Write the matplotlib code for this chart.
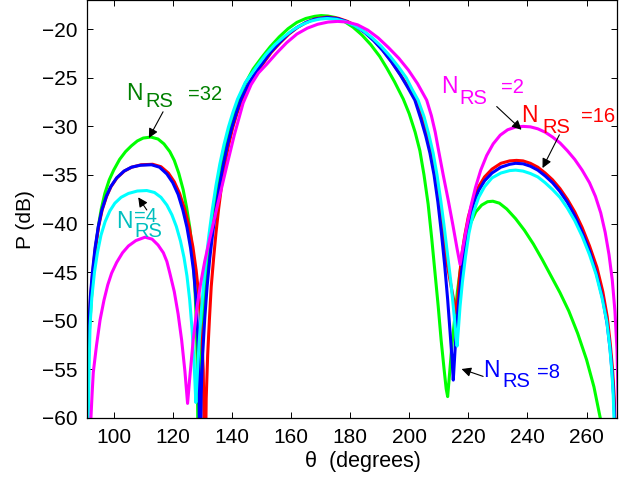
import numpy as np
import matplotlib
matplotlib.use("Agg")
import matplotlib.pyplot as plt

plt.rcParams['font.family'] = ['Liberation Sans', 'DejaVu Sans']

# curves: theta (degrees) and P (dB)
green_theta = [90.9, 91.3, 91.7, 92.0, 92.5, 93.1, 93.9, 94.8, 95.8, 97.0, 98.5, 100.0,
               102.0, 104.0, 106.0, 108.0, 110.0, 112.6, 115.0, 117.0, 119.0, 120.5, 122.0,
               123.5, 124.7, 125.8, 126.7, 127.4, 128.0, 128.3, 128.6, 128.9, 129.4, 130.1,
               130.9, 131.8, 132.8, 133.9, 135.1, 136.4, 137.8, 139.3, 140.8, 142.4, 144.5,
               147.2, 150.0, 153.0, 156.0, 159.0, 162.0, 165.0, 168.0, 170.2, 172.5, 175.0,
               178.0, 181.0, 184.0, 187.0, 190.0, 192.4, 195.0, 198.0, 200.0, 202.0, 203.6,
               205.0, 206.4, 207.6, 208.7, 209.8, 210.8, 211.8, 212.5, 213.0, 213.5, 214.3,
               215.3, 216.3, 217.5, 219.0, 220.7, 222.5, 224.5, 226.5, 228.3, 230.5, 233.0,
               236.0, 239.0, 242.0, 245.0, 248.0, 251.0, 254.0, 257.0, 260.0, 262.5, 264.3,
               266.0]
green_p = [-57.5, -54.0, -51.5, -50.0, -47.6, -45.1, -42.5, -40.3, -38.5, -36.9, -35.5, -34.5,
           -33.4, -32.6, -32.0, -31.5, -31.2, -31.1, -31.3, -31.8, -32.6, -33.5, -34.8,
           -36.5, -38.4, -40.5, -43.0, -46.0, -50.5, -55.0, -66.0, -58.0, -54.0, -50.0,
           -46.6, -43.6, -40.9, -38.4, -36.0, -33.8, -31.8, -30.0, -28.5, -27.1, -25.6,
           -24.1, -22.95, -21.8, -20.8, -19.95, -19.3, -18.9, -18.68, -18.6, -18.65, -18.8,
           -19.2, -19.8, -20.6, -21.6, -22.8, -24.0, -25.4, -27.2, -28.7, -30.6, -32.5,
           -35.0, -38.0, -41.5, -45.0, -48.5, -52.0, -55.0, -57.0, -57.8, -56.0, -53.0,
           -50.0, -47.0, -44.3, -41.8, -40.0, -38.8, -38.1, -37.75, -37.7, -37.9, -38.5,
           -39.5, -40.7, -42.1, -43.7, -45.4, -47.1, -49.0, -51.3, -54.0, -56.8, -59.5,
           -62.0]

red_theta = [91.1, 91.4, 91.7, 92.2, 92.9, 93.8, 94.9, 96.1, 97.6, 99.1, 101.1, 103.6,
             106.1, 109.3, 113.2, 116.0, 118.5, 120.5, 122.3, 124.0, 125.5, 126.8, 127.9,
             128.9, 129.7, 130.3, 130.9, 131.3, 131.8, 132.4, 133.0, 133.8, 134.6, 135.5,
             136.5, 137.6, 138.9, 140.3, 141.8, 143.4, 145.6, 147.8, 149.8, 153.3, 156.3,
             159.3, 162.3, 165.3, 168.3, 172.3, 176.0, 179.0, 182.0, 185.0, 188.0, 191.0,
             194.0, 197.0, 199.8, 202.3, 204.4, 206.0, 207.4, 208.8, 210.1, 211.4, 212.6,
             213.9, 215.0, 216.0, 216.5, 217.0, 217.8, 218.8, 220.0, 221.7, 223.5, 225.5,
             228.0, 231.0, 234.0, 236.3, 238.5, 241.0, 243.5, 246.0, 248.5, 251.0, 253.5,
             256.0, 258.5, 261.0, 263.5, 265.5, 267.0, 268.0, 268.8, 269.3, 269.7]
red_p = [-59.5, -54.5, -50.5, -47.5, -45.0, -42.5, -40.3, -38.6, -37.2, -36.2, -35.3, -34.6,
         -34.2, -33.95, -33.9, -34.15, -34.8, -35.7, -36.9, -38.5, -40.3, -42.4, -44.8,
         -47.7, -51.2, -55.0, -68.0, -58.0, -53.5, -49.8, -46.5, -43.6, -41.0, -38.5,
         -36.1, -33.9, -31.9, -30.1, -28.6, -27.2, -25.8, -24.7, -23.85, -22.4, -21.4,
         -20.5, -19.8, -19.28, -18.93, -18.75, -18.88, -19.19, -19.66, -20.31, -21.14, -22.14,
         -23.32, -24.67, -26.0, -27.3, -29.3, -31.0, -32.75, -35.0, -37.8, -41.0, -43.8,
         -46.0, -47.8, -49.2, -47.5, -45.5, -43.2, -41.2, -39.3, -37.5, -36.2, -35.2,
         -34.4, -33.8, -33.55, -33.5, -33.55, -33.8, -34.2, -34.8, -35.5, -36.4, -37.5,
         -38.8, -40.4, -42.3, -44.5, -47.0, -49.6, -52.3, -55.0, -57.5, -61.0]

blue_theta = [91.0, 91.3, 91.6, 92.1, 92.8, 93.7, 94.8, 96.0, 97.5, 99.0, 101.0, 103.5,
              106.0, 109.0, 112.8, 115.5, 118.0, 120.0, 121.8, 123.4, 124.8, 126.0, 127.0,
              127.8, 128.4, 128.8, 129.2, 129.6, 130.1, 130.8, 131.6, 132.5, 133.5, 134.6,
              135.8, 137.1, 138.5, 140.0, 141.5, 143.1, 145.3, 147.5, 149.5, 153.0, 156.0,
              159.0, 162.0, 165.0, 168.0, 172.3, 176.0, 179.0, 182.0, 185.0, 188.0, 191.0,
              194.0, 197.0, 199.5, 201.9, 204.0, 205.6, 207.0, 208.4, 209.7, 210.9, 212.0,
              213.0, 213.9, 214.5, 214.9, 215.5, 216.2, 217.0, 217.7, 218.7, 220.0, 221.7,
              223.5, 225.5, 228.0, 231.0, 234.0, 236.0, 238.5, 241.0, 243.5, 246.0, 248.5,
              251.0, 253.5, 256.0, 258.5, 261.0, 263.5, 265.5, 267.0, 268.0, 268.7, 269.2,
              269.6]
blue_p = [-59.0, -54.5, -50.5, -47.5, -45.0, -42.5, -40.3, -38.6, -37.2, -36.2, -35.3, -34.6,
          -34.2, -34.0, -33.95, -34.2, -34.9, -35.8, -37.0, -38.6, -40.4, -42.5, -44.8,
          -47.6, -51.0, -55.0, -68.0, -57.5, -53.5, -49.8, -46.5, -43.6, -41.0, -38.5,
          -36.1, -33.9, -31.9, -30.1, -28.6, -27.2, -25.8, -24.7, -23.85, -22.4, -21.4,
          -20.5, -19.83, -19.32, -18.98, -18.8, -18.93, -19.24, -19.71, -20.36, -21.19, -22.19,
          -23.37, -24.72, -26.0, -27.3, -29.3, -31.0, -32.75, -35.0, -37.8, -41.0, -44.3,
          -47.8, -51.5, -54.0, -56.1, -53.0, -50.0, -47.3, -45.0, -42.5, -40.0, -38.0,
          -36.6, -35.6, -34.8, -34.2, -33.9, -33.8, -33.85, -34.1, -34.5, -35.1, -35.8,
          -36.7, -37.8, -39.2, -40.9, -42.8, -45.3, -47.8, -50.4, -53.0, -55.5, -58.0,
          -61.0]

cyan_theta = [91.4, 91.7, 92.0, 92.6, 93.5, 94.5, 95.7, 97.1, 98.7, 100.4, 102.5, 105.0,
              108.0, 111.2, 113.8, 116.0, 118.0, 119.7, 121.2, 122.6, 123.8, 124.8, 125.7,
              126.5, 127.2, 127.8, 128.3, 128.9, 129.6, 130.4, 131.3, 132.3, 133.4, 134.6,
              135.9, 137.3, 138.8, 140.3, 141.9, 144.5, 148.4, 151.5, 154.5, 157.5, 160.5,
              163.5, 166.5, 169.5, 172.3, 175.5, 178.5, 181.5, 184.5, 187.5, 190.5, 193.5,
              196.3, 199.0, 201.0, 203.0, 205.0, 206.6, 208.1, 209.4, 210.7, 211.9, 213.0,
              214.0, 214.9, 215.6, 216.2, 216.6, 217.2, 218.0, 219.0, 220.2, 221.7, 223.5,
              225.5, 228.0, 231.0, 234.0, 236.0, 238.5, 241.0, 243.5, 246.0, 248.5, 251.0,
              253.5, 256.0, 258.5, 261.0, 263.2, 265.2, 266.8, 267.8, 268.5, 269.0, 269.4]
cyan_p = [-60.0, -54.5, -50.5, -47.6, -45.0, -43.0, -41.2, -39.8, -38.7, -37.9, -37.3, -36.9,
          -36.65, -36.6, -36.8, -37.3, -38.1, -39.1, -40.3, -41.8, -43.5, -45.4, -47.8,
          -50.8, -54.3, -58.4, -55.5, -52.3, -49.2, -46.3, -43.6, -41.0, -38.5, -36.1,
          -33.9, -31.9, -30.1, -28.6, -27.2, -25.5, -23.85, -22.6, -21.6, -20.8, -20.1,
          -19.57, -19.19, -18.97, -18.9, -18.99, -19.23, -19.63, -20.18, -20.89, -21.75, -22.77,
          -23.85, -25.0, -26.2, -27.3, -29.0, -30.8, -32.75, -35.0, -37.7, -40.5, -43.3,
          -45.8, -48.5, -50.8, -52.6, -51.0, -48.5, -46.0, -43.5, -41.0, -38.9, -37.3,
          -36.2, -35.3, -34.8, -34.55, -34.5, -34.6, -34.85, -35.2, -35.8, -36.5, -37.3,
          -38.4, -39.7, -41.3, -43.2, -45.2, -47.6, -50.0, -52.5, -55.0, -57.5, -61.0]

magenta_theta = [92.3, 92.7, 93.1, 94.2, 95.4, 96.7, 98.0, 99.3, 101.0, 103.0, 105.0, 107.5,
                 110.6, 113.0, 115.0, 116.8, 118.0, 119.0, 120.5, 121.8, 123.0, 124.1, 125.0,
                 125.7, 126.9, 128.2, 129.4, 130.8, 132.4, 134.3, 136.3, 138.4, 140.8, 143.8,
                 146.5, 149.0, 151.8, 155.0, 158.5, 162.0, 165.5, 169.0, 172.5, 175.8, 179.0,
                 182.5, 186.0, 189.5, 193.0, 196.5, 199.7, 202.8, 205.9, 207.5, 208.8, 210.0,
                 211.5, 213.2, 214.8, 216.2, 217.2, 218.2, 219.4, 220.8, 222.4, 224.2, 226.2,
                 228.4, 230.8, 233.3, 236.0, 238.5, 241.0, 243.5, 246.0, 248.5, 251.0, 253.5,
                 256.0, 258.5, 261.0, 263.0, 264.8, 266.3, 267.6, 268.7, 269.6, 270.3, 270.8]
magenta_p = [-60.0, -57.5, -55.3, -52.5, -49.9, -47.9, -46.3, -45.1, -44.0, -43.0, -42.3, -41.75,
             -41.4, -41.6, -42.2, -43.0, -43.9, -45.1, -47.0, -49.3, -52.0, -55.2, -58.5,
             -56.0, -52.0, -48.6, -46.2, -43.9, -41.7, -39.2, -36.6, -33.9, -30.9, -27.6,
             -25.7, -24.5, -23.6, -22.5, -21.4, -20.5, -19.9, -19.5, -19.27, -19.2, -19.27,
             -19.55, -20.1, -20.9, -21.9, -23.0, -24.2, -25.6, -27.3, -28.9, -30.6, -32.6,
             -35.0, -37.6, -40.2, -42.6, -44.2, -42.4, -40.4, -38.3, -36.3, -34.5, -33.0,
             -31.8, -30.9, -30.35, -30.07, -30.0, -30.05, -30.25, -30.6, -31.1, -31.7, -32.5,
             -33.4, -34.5, -35.8, -37.2, -38.9, -40.9, -43.2, -45.8, -49.0, -53.0, -60.0]

fig = plt.figure(figsize=(6.4, 4.82), dpi=100)
ax = fig.add_axes([87 / 640, 64 / 482, 530 / 640, 418 / 482])

ax.plot(green_theta, green_p, color='#00ff00', lw=2.2)
ax.plot(red_theta, red_p, color='#ff0000', lw=2.2)
ax.plot(blue_theta, blue_p, color='#0000ff', lw=2.2)
ax.plot(cyan_theta, cyan_p, color='#00ffff', lw=2.2)
ax.plot(magenta_theta, magenta_p, color='#ff00ff', lw=2.2)

ax.set_xlim(90.97, 270.3)
ax.set_ylim(-60, -17)
ax.set_xticks(range(100, 261, 20))
ax.set_yticks(range(-60, -19, 5))
ax.tick_params(direction='in', top=True, right=True, length=4, width=0.7,
               labelsize=15, pad=7)
for s in ax.spines.values():
    s.set_linewidth(0.9)

ax.set_xlabel('θ  (degrees)', fontsize=15.5)
ax.xaxis.set_label_coords(0.52, -0.078)
ax.set_ylabel('P (dB)', fontsize=15)
ax.yaxis.set_label_coords(-0.098, 0.474)


def nrs_label(n_xy, rs_xy, val_xy, val, color, tail, head):
    ax.text(*n_xy, 'N', color=color, fontsize=16.5, va='baseline', ha='left')
    ax.text(*rs_xy, 'RS', color=color, fontsize=14.5, va='baseline', ha='left')
    ax.text(*val_xy, val, color=color, fontsize=14.5, va='baseline', ha='left')
    ax.annotate('', xy=head, xytext=tail,
                arrowprops=dict(arrowstyle='-|>', color='k', lw=0.8,
                                mutation_scale=14, shrinkA=0, shrinkB=0))


nrs_label((104.2, -27.27), (110.6, -27.99), (125.1, -27.27), '=32', '#008000',
          (116.7, -28.5), (111.9, -31.2))
nrs_label((100.8, -40.43), (106.9, -41.36), (106.9, -39.81), '=4', '#00bfbf',
          (111.2, -38.6), (108.3, -37.3))
nrs_label((210.7, -26.55), (216.8, -27.68), (231.0, -26.55), '=2', '#ff00ff',
          (229.6, -27.96), (238.0, -30.35))
nrs_label((237.8, -29.53), (244.9, -30.66), (258.1, -29.53), '=16', '#ff0000',
          (250.8, -30.87), (245.1, -34.29))
nrs_label((224.9, -55.75), (231.4, -56.78), (243.2, -55.86), '=8', '#0000ff',
          (225.0, -55.72), (217.7, -54.96))

fig.savefig('out.png', dpi=100)
